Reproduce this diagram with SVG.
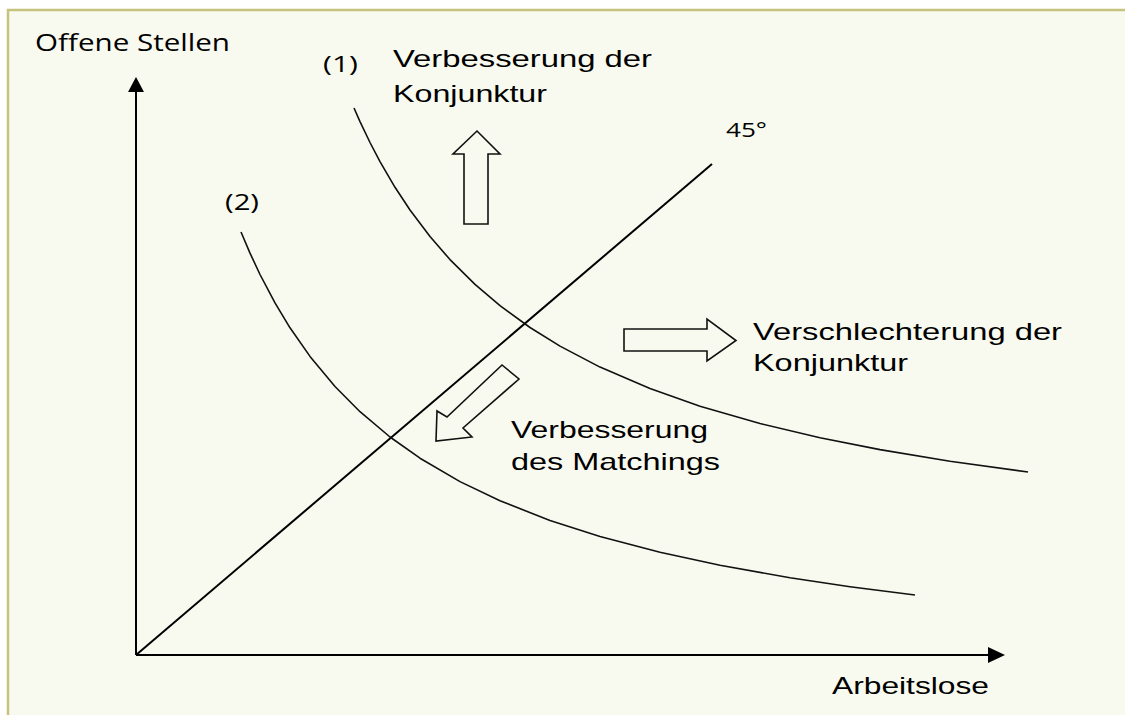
<svg xmlns="http://www.w3.org/2000/svg" width="1125" height="715" viewBox="0 0 1125 715">
<defs>
<style>
.bg{fill:#f9faef;stroke:none}
.frame{fill:none;stroke:#c6c37f;stroke-width:2.5}
.ax{stroke:#000;stroke-width:2;fill:none}
.cv{stroke:#111;stroke-width:1.6;fill:none;stroke-linejoin:round}
.blk{fill:#f9faef;stroke:#111;stroke-width:1.6;stroke-linejoin:miter}
.hum{font-family:"Open Sans","Noto Sans","DejaVu Sans",sans-serif;fill:#000}
.ari{font-family:"Liberation Sans",Arial,sans-serif;fill:#000;font-size:24px}
</style>
</defs>
<rect x="0" y="0" width="1125" height="715" fill="#ffffff"/>
<rect class="bg" x="8" y="10" width="1125" height="715"/>
<path class="frame" d="M8,715 V10 H1125"/>

<g id="connectors">
  <g id="y-axis">
    <line class="ax" x1="136" y1="655" x2="136" y2="90"/>
    <polygon points="136,77 128,92 144,92" fill="#000"/>
  </g>
  <g id="x-axis">
    <line class="ax" x1="136" y1="655" x2="990" y2="655"/>
    <polygon points="1005,655 988,647 988,663" fill="#000"/>
  </g>
  <line id="line-45" class="ax" stroke-width="1.6" x1="136" y1="655" x2="712" y2="164"/>
  <polyline id="curve-1" class="cv" points="354,108 360,121.6 370,142.5 380,161.6 395,187.3 410,210 430,236.6 450,259.6 475,284.4 500,305.7 530,327.5 560,346.1 600,367.1 650,388.6 700,406.2 760,423.5 820,437.8 880,449.6 950,461.3 1028,472"/>
  <polyline id="curve-2" class="cv" points="241,232 250,253.1 260,274.5 275,302.9 290,327.8 310,356.4 335,386.5 360,411.7 390,437 420,458.2 460,481.6 500,500.8 550,520.4 600,536.5 660,552.3 720,565.3 790,577.7 850,586.7 915,595"/>
</g>

<g id="arrow-up">
  <polygon class="blk" points="464,224 464,154 453,154 477,131 500,154 488,154 488,224"/>
</g>
<g id="arrow-right">
  <polygon class="blk" points="624,329 707,329 707,319 736,340.5 707,361 707,351 624,351"/>
</g>
<g id="arrow-diag">
  <polygon class="blk" points="436,441 437,411 447,417 502,365 519,379 463,428 472,437"/>
</g>

<g id="label-y">
  <text class="hum" x="35" y="51" font-size="23" textLength="195" lengthAdjust="spacingAndGlyphs">Offene Stellen</text>
</g>
<g id="label-x">
  <text class="ari" x="832" y="694" textLength="157" lengthAdjust="spacingAndGlyphs">Arbeitslose</text>
</g>
<g id="label-1">
  <text class="hum" x="323" y="72" font-size="22" textLength="35" lengthAdjust="spacingAndGlyphs">(1)</text>
</g>
<g id="label-2">
  <text class="hum" x="225" y="210" font-size="22" textLength="34" lengthAdjust="spacingAndGlyphs">(2)</text>
</g>
<g id="label-45">
  <text class="hum" x="726" y="137" font-size="20" textLength="41" lengthAdjust="spacingAndGlyphs">45°</text>
</g>
<g id="label-verbesserung-konjunktur">
  <text class="ari" x="393" y="67" textLength="259" lengthAdjust="spacingAndGlyphs">Verbesserung der</text>
  <text class="ari" x="393" y="102" textLength="154" lengthAdjust="spacingAndGlyphs">Konjunktur</text>
</g>
<g id="label-verschlechterung">
  <text class="ari" x="753" y="340" textLength="309" lengthAdjust="spacingAndGlyphs">Verschlechterung der</text>
  <text class="ari" x="753" y="371" textLength="155" lengthAdjust="spacingAndGlyphs">Konjunktur</text>
</g>
<g id="label-matching">
  <text class="ari" x="511" y="438" textLength="197" lengthAdjust="spacingAndGlyphs">Verbesserung</text>
  <text class="ari" x="511" y="470" textLength="209" lengthAdjust="spacingAndGlyphs">des Matchings</text>
</g>
</svg>
